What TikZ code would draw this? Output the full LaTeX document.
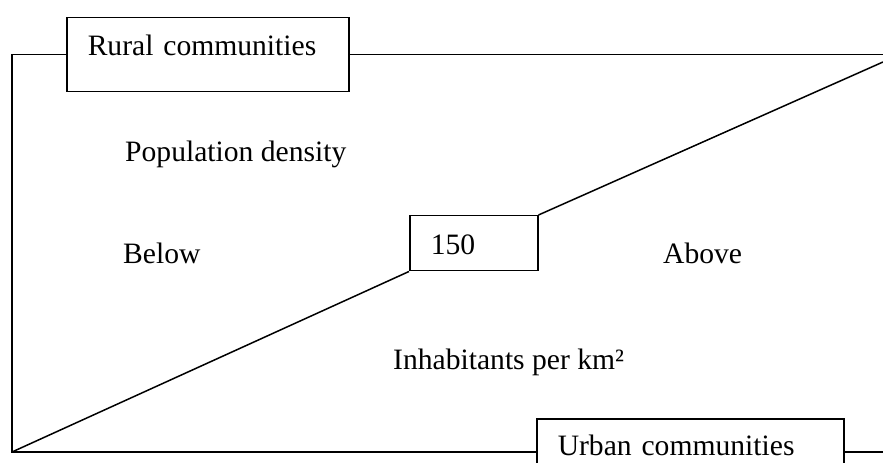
\documentclass[tikz,border=0pt]{standalone}
\usepackage{fontspec}
\setmainfont{Liberation Serif}
\begin{document}
\begin{tikzpicture}[x=1bp, y=-1bp,
  every node/.style={font=\fontsize{29.6bp}{35bp}\selectfont},
  framed/.style={draw, line width=1.5bp, rectangle, anchor=north west,
    inner xsep=21bp, inner ysep=0pt, align=left},
  plain/.style={anchor=base west, inner sep=0pt},
  rule/.style={line width=1.5bp}]
\useasboundingbox (0,0) rectangle (883,463);
\clip (0,0) rectangle (883,463);

% category boxes and threshold
\node[framed, text width=240bp, text height=38bp, text depth=36bp] (rural) at (66,17) {Rural communities};
\node[framed, text width=86bp, text height=39bp, text depth=16bp] (thr) at (409,215) {150};
\node[framed, text width=265bp, text height=37bp, text depth=60bp] (urban) at (536,418) {Urban communities};

% free labels
\node[plain] (dens) at (125,162) {Population density};
\node[plain] (below) at (123,264) {Below};
\node[plain] (above) at (663,264) {Above};
\node[plain] (inhab) at (393,370) {Inhabitants per km²};

% frame corners
\coordinate (bl) at (12,452);
\coordinate (br) at (883,452);
\coordinate (rt) at (883,62);

% outer frame
\draw[rule] (rural.west) -- (rural.west -| bl) -- (bl) -- (bl -| urban.west);
\draw[rule] (rural.east) -- (rural.east -| br);
\draw[rule] (br -| urban.east) -- (br);

% diagonal through the threshold box
\draw[rule] (bl) -- (thr.south west);
\draw[rule] (thr.north east) -- (rt);
\end{tikzpicture}
\end{document}
